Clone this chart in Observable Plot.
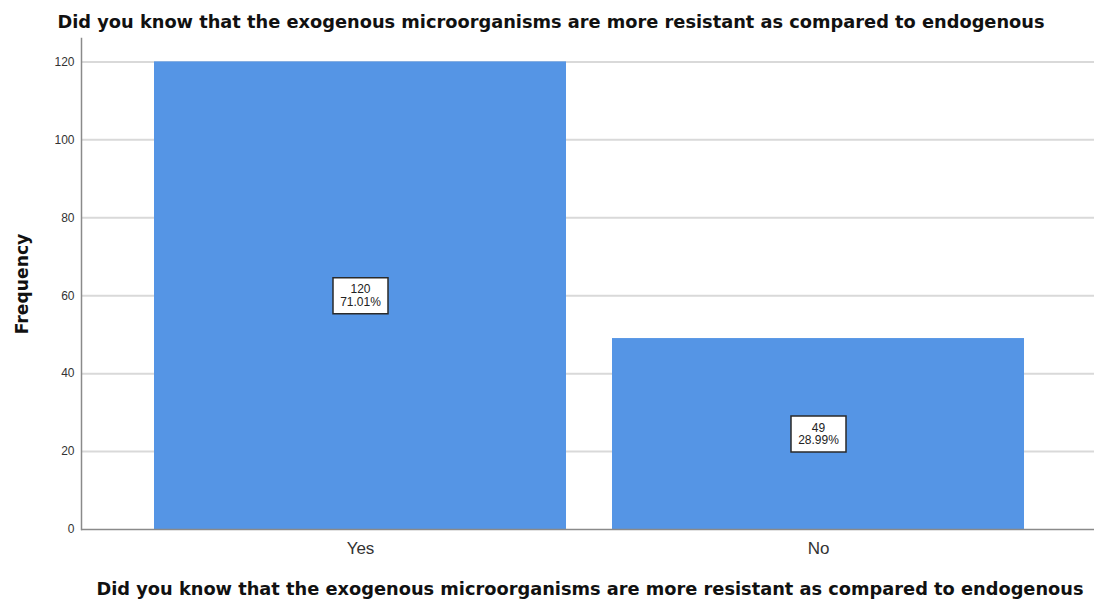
<!DOCTYPE html>
<html>
<head>
<meta charset="utf-8">
<script src="https://cdn.jsdelivr.net/npm/d3@7"></script>
<script src="https://cdn.jsdelivr.net/npm/@observablehq/plot@0.6"></script>
<style>
  body { margin: 0; background: white; }
  #chart svg { display: block; }
</style>
</head>
<body>
<div id="chart"></div>
<script>
const categories = ["Yes", "No"];
const counts = [120, 49];
const percents = ["71.01%", "28.99%"];
const yTicks = [0, 20, 40, 60, 80, 100, 120];
const titleText = "Did you know that the exogenous microorganisms are more resistant as compared to endogenous";
const xLabel = "Did you know that the exogenous microorganisms are more resistant as compared to endogenous";
const yLabel = "Frequency";

const data = categories.map((c, i) => ({
  category: c,
  count: counts[i],
  label: `${counts[i]}\n${percents[i]}`
}));

const boxSymbol = {
  draw(context, size) {
    context.moveTo(-27.5, -18);
    context.lineTo(27.5, -18);
    context.lineTo(27.5, 18);
    context.lineTo(-27.5, 18);
    context.closePath();
  }
};

const wide = "'DejaVu Sans', Verdana, sans-serif";

const chart = Plot.plot({
  width: 1094,
  height: 601,
  marginLeft: 81,
  marginRight: -4,
  marginTop: 38,
  marginBottom: 72,
  style: { fontFamily: "'Liberation Sans', Arial, sans-serif", background: "white", color: "#333", overflow: "hidden" },
  x: { domain: categories, paddingInner: 0.1, paddingOuter: 0.16 },
  y: { domain: [0, 126] },
  marks: [
    Plot.gridY(yTicks.filter(t => t > 0), { stroke: "#d9d9d9", strokeOpacity: 1, strokeWidth: 2 }),
    Plot.barY(data, { x: "category", y: "count", fill: "#5595e5" }),
    Plot.ruleY([0], { stroke: "#8a8a8a", strokeWidth: 1.5 }),
    Plot.frame({ anchor: "left", stroke: "#8a8a8a", strokeWidth: 1.5 }),
    Plot.axisY({ ticks: yTicks, tickSize: 0, tickPadding: 7, fontSize: 12, label: null, fill: "#333" }),
    Plot.axisX({ tickSize: 0, tickPadding: 12, fontSize: 17, label: null, fill: "#333" }),
    Plot.dot(data, { x: "category", y: d => d.count / 2, symbol: boxSymbol, r: 5, fill: "white", stroke: "#2a2a2a", strokeWidth: 1.5 }),
    Plot.text(data, { x: "category", y: d => d.count / 2, text: "label", fontSize: 12, lineHeight: 1.05, fill: "#222" }),
    Plot.text([titleText], { text: d => d, frameAnchor: "top", dy: -23, dx: -39, fontSize: 17.8, fontWeight: "bold", fill: "#111", fontFamily: wide }),
    Plot.text([xLabel], { text: d => d, frameAnchor: "bottom", dy: 65, dx: 0, fontSize: 17.8, fontWeight: "bold", fill: "#111", fontFamily: wide }),
    Plot.text([yLabel], { text: d => d, frameAnchor: "left", textAnchor: "middle", rotate: -90, dx: -59, fontSize: 17.2, fontWeight: "bold", fill: "#111", fontFamily: wide })
  ]
});

document.getElementById("chart").appendChild(chart);
</script>
</body>
</html>
